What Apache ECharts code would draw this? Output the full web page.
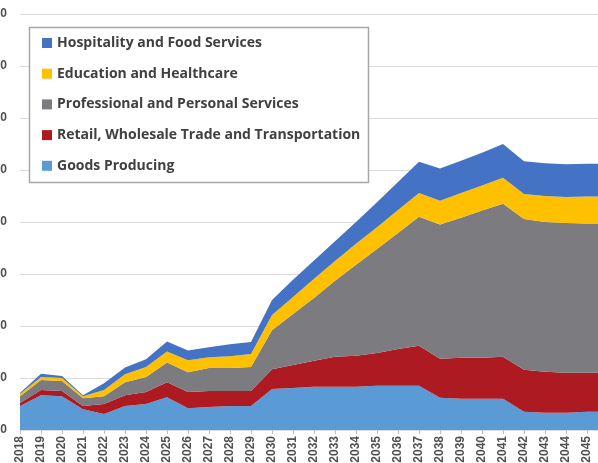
<!DOCTYPE html>
<html>
<head>
<meta charset="utf-8">
<script src="https://cdn.jsdelivr.net/npm/echarts@6/dist/echarts.min.js"></script>
<style>
  html, body { margin: 0; padding: 0; background: #fff; }
  #chart { width: 598px; height: 463px; }
</style>
</head>
<body>
<div id="chart"></div>
<script>
// Category years (2046 sits just past the right edge of the picture)
const years = ['2018','2019','2020','2021','2022','2023','2024','2025','2026','2027',
  '2028','2029','2030','2031','2032','2033','2034','2035','2036','2037',
  '2038','2039','2040','2041','2042','2043','2044','2045','2046'];

// Stacked series values, bottom to top
const goodsProducing = [46,67,65,40,31,46,50,63,42,44,46,46,79,81,83,83,83,85,85,85,62,60,60,60,35,33,33,35,35];
const retailTrade    = [6,10,10,6,19,21,23,29,31,31,29,29,38,44,50,58,60,63,71,77,75,79,79,81,81,79,77,75,75];
const professional   = [13,19,19,15,15,25,29,38,38,44,44,46,75,98,121,146,175,200,223,248,258,269,283,294,290,288,288,287,287];
const education      = [4,6,6,4,12,15,19,21,23,21,23,25,29,33,37,38,40,42,44,46,46,48,48,50,48,50,50,52,52];
const hospitality    = [2,6,4,2,13,13,15,19,19,19,23,23,29,33,35,38,42,48,54,60,62,62,63,65,63,63,63,63,63];

const yTicks = [0, 100, 200, 300, 400, 500, 600, 700, 800];

const seriesDefs = [
  { name: 'Goods Producing', data: goodsProducing, color: '#5B9BD5' },
  { name: 'Retail, Wholesale Trade and Transportation', data: retailTrade, color: '#AE1A22' },
  { name: 'Professional and Personal Services', data: professional, color: '#7B7B80' },
  { name: 'Education and Healthcare', data: education, color: '#FFC000' },
  { name: 'Hospitality and Food Services', data: hospitality, color: '#4472C4' }
];

const chart = echarts.init(document.getElementById('chart'));

const option = {
  backgroundColor: '#fff',
  animation: false,
  grid: { left: 20, right: -10, top: 14, bottom: 33, containLabel: false, outerBoundsMode: 'none' },
  graphic: [
    {
      type: 'rect',
      z: 10,
      shape: { x: 29.5, y: 27.5, width: 339, height: 155 },
      style: { fill: '#fff', stroke: '#a6a6a6', lineWidth: 1.5 }
    }
  ],
  legend: {
    z: 20,
    left: 42,
    top: 35,
    orient: 'vertical',
    icon: 'rect',
    itemWidth: 10,
    itemHeight: 10,
    itemGap: 14.7,
    padding: 0,
    data: seriesDefs.map(s => s.name).reverse(),
    textStyle: {
      fontFamily: 'Open Sans',
      fontSize: 14,
      fontWeight: 'bold',
      lineHeight: 16,
      color: '#404040'
    }
  },
  xAxis: {
    type: 'category',
    boundaryGap: false,
    data: years,
    axisLine: { lineStyle: { color: '#d9d9d9', width: 1 } },
    axisTick: { show: true, length: 4, lineStyle: { color: '#bfbfbf' } },
    axisLabel: {
      rotate: 90,
      interval: 0,
      margin: 6,
      fontFamily: 'Liberation Sans',
      fontSize: 12,
      fontWeight: 'bold',
      color: '#505050'
    }
  },
  yAxis: {
    type: 'value',
    min: yTicks[0],
    max: yTicks[yTicks.length - 1],
    interval: 100,
    axisLine: { show: false },
    axisTick: { show: false },
    splitLine: { lineStyle: { color: '#d9d9d9', width: 1 } },
    axisLabel: {
      margin: 13,
      fontFamily: 'Liberation Sans',
      fontSize: 12,
      fontWeight: 'bold',
      color: '#505050'
    }
  },
  series: seriesDefs.map(s => ({
    name: s.name,
    type: 'line',
    stack: 'total',
    data: s.data,
    symbol: 'none',
    lineStyle: { width: 0 },
    areaStyle: { color: s.color, opacity: 1 },
    itemStyle: { color: s.color }
  }))
};

chart.setOption(option);
</script>
</body>
</html>
